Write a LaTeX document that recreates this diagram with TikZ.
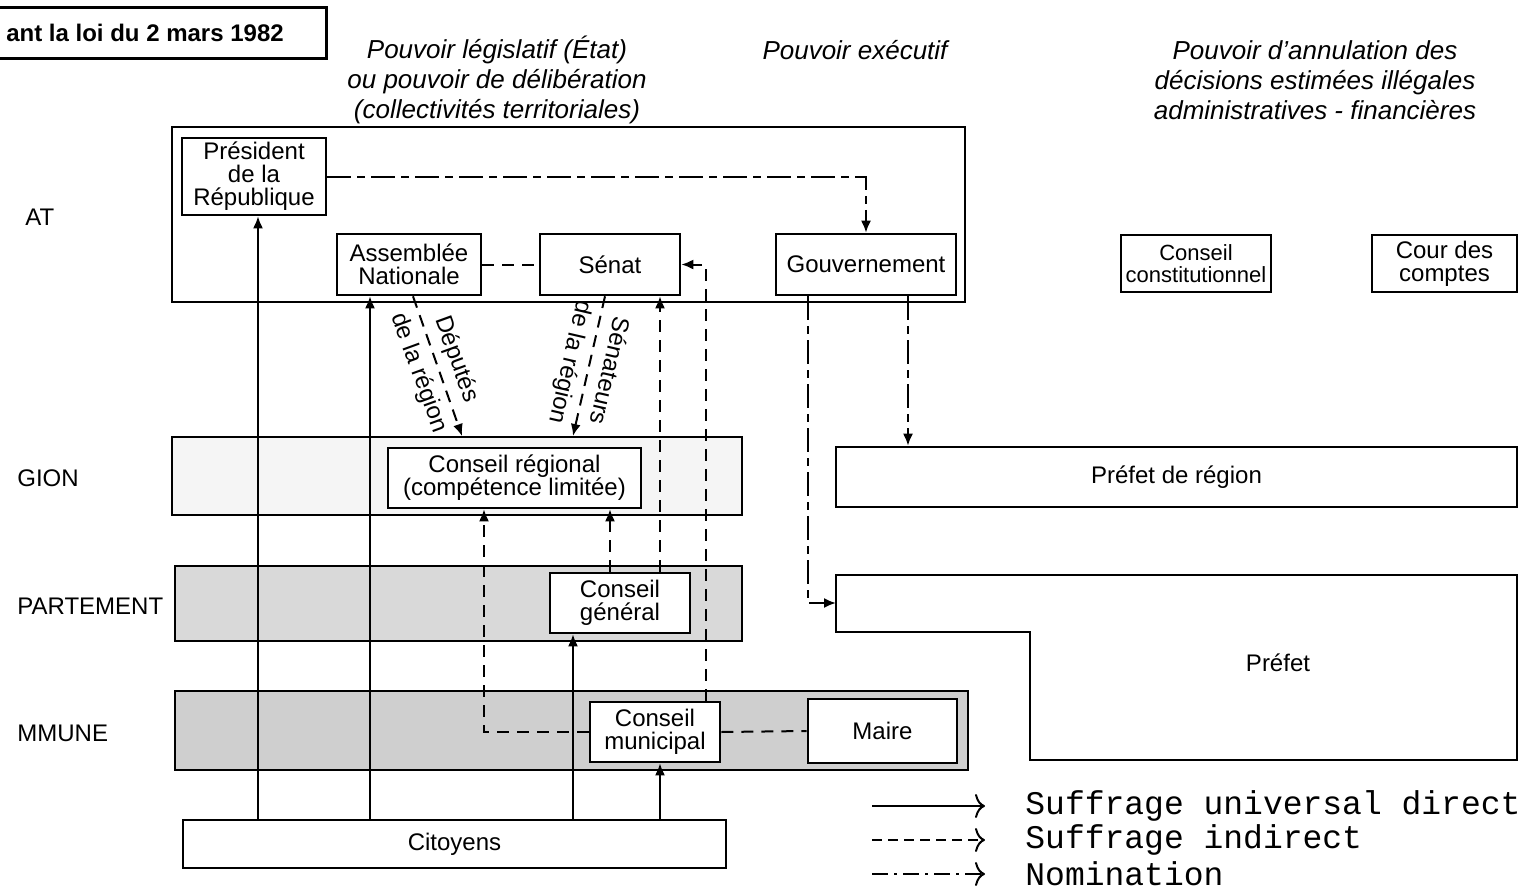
\documentclass[tikz,border=0pt]{standalone}
\usepackage{fontspec}
\setmainfont{Liberation Sans}
\newfontfamily\legendfont{Liberation Mono}
\usetikzlibrary{arrows.meta,positioning}

\begin{document}
\begin{tikzpicture}[x=0.5pt, y=-0.5pt,
    box/.style={draw, line width=1.3pt, fill=white, align=center, inner sep=0pt, font=\fontsize{12}{11.5}\selectfont},
    band/.style={draw, line width=1pt, inner sep=0pt},
    direct/.style={line width=1pt, -{Latex[length=6pt,width=5pt]}},
    indirect/.style={line width=1pt, dash pattern=on 6pt off 4pt, -{Latex[length=6pt,width=5pt]}},
    lien/.style={line width=1pt, dash pattern=on 6pt off 4pt},
    nomination/.style={line width=1pt, dash pattern=on 12pt off 3pt on 4pt off 3pt, -{Latex[length=6pt,width=5pt]}},
    pouvoir/.style={font=\fontsize{13}{15}\selectfont\itshape, align=center},
    niveau/.style={anchor=west, inner sep=0pt, font=\fontsize{12}{14}\selectfont},
    delegues/.style={midway, align=center, font=\fontsize{12}{20}\selectfont},
    legende/.style={anchor=west, inner sep=0pt, font=\legendfont\fontsize{16.5}{17}\selectfont},
    clef/.style={line width=1pt, -{To[length=5pt,width=12pt]}, shorten >=20pt}]
\useasboundingbox (0,0) rectangle (1523,890);

% titre et colonnes
\node[minimum width=181pt, minimum height=25pt, font=\bfseries\fontsize{12}{14}\selectfont] (titre) at (145,33) {ant la loi du 2 mars 1982};
\draw[line width=1.3pt] (titre.north west) -- (titre.north east) -- (titre.south east) -- (titre.south west);
\node[pouvoir] (legis) at (497,80) {Pouvoir législatif (État)\\ou pouvoir de délibération\\(collectivités territoriales)};
\node[pouvoir] (exec) at (855,50) {Pouvoir exécutif};
\node[pouvoir] (annul) at (1315,80) {Pouvoir d'annulation des\\décisions estimées illégales\\administratives - financières};

% niveaux
\node[niveau] (netat) at (25,217) {AT};
\node[niveau] (nregion) at (17,478) {GION};
\node[niveau] (ndept) at (17,606) {PARTEMENT};
\node[niveau] (ncommune) at (17,733) {MMUNE};

% bandes
\node[band, line width=1.3pt, minimum width=396.5pt, minimum height=87.5pt] (etat) at (568.5,214.5) {};
\node[band, fill=black!4, minimum width=285pt, minimum height=39pt] (regionband) at (457,476) {};
\node[band, fill=black!15, minimum width=283.5pt, minimum height=37.5pt] (deptband) at (458.5,603.5) {};
\node[band, fill=black!19, minimum width=396.5pt, minimum height=39.5pt] (communeband) at (571.5,730.5) {};

% Etat
\node[box, minimum width=72pt, minimum height=38.5pt] (pres) at (254,176.5) {Président\\de la\\République};
\node[box, minimum width=72pt, minimum height=30.5pt] (an) at (409,264.5) {Assemblée\\Nationale};
\node[box, minimum width=70pt, minimum height=30.5pt] (senat) at (610,264.5) {Sénat};
\node[box, minimum width=90pt, minimum height=30.5pt] (gouv) at (866,264.5) {Gouvernement};
\node[box, minimum width=75pt, minimum height=28.5pt, font=\fontsize{11}{11}\selectfont] (cc) at (1196,263.5) {Conseil\\constitutionnel};
\node[box, minimum width=72.5pt, minimum height=28.5pt] (cdc) at (1444.5,263.5) {Cour des\\comptes};

% collectivites
\node[box, minimum width=126.5pt, minimum height=30pt] (cr) at (514.5,478) {Conseil régional\\(compétence limitée)};
\node[box, minimum width=340.5pt, minimum height=30pt] (pr) at (1176.5,477) {Préfet de région};
\node[box, minimum width=70pt, minimum height=30pt] (cg) at (620,603) {Conseil\\général};
\draw[line width=1.3pt] (836,575) -- (1517,575) -- (1517,760) -- (1030,760) -- (1030,632) -- (836,632) -- cycle;
\node[font=\fontsize{12}{14}\selectfont] (prefet) at (1278,663) {Préfet};
\coordinate (prefetin) at (836,603);
\node[box, minimum width=65pt, minimum height=30pt] (cm) at (655,732) {Conseil\\municipal};
\node[box, minimum width=74.5pt, minimum height=32pt] (maire) at (882.5,731) {Maire};
\node[box, minimum width=271.5pt, minimum height=24pt] (cit) at (454.5,844) {Citoyens};

% suffrage universel direct
\draw[direct] (cit.north -| 258,0) -- (pres.south -| 258,0);
\draw[direct] (cit.north -| 370,0) -- (an.south -| 370,0);
\draw[direct] (cit.north -| 573,0) -- (cg.south -| 573,0);
\draw[direct] (cit.north -| 660,0) -- (cm.south -| 660,0);

% suffrage indirect
\draw[lien] (an.east) -- (senat.west);
\draw[indirect] (an.south -| 413,0) -- (regionband.north -| 462,0)
    node[delegues, rotate=-70] (deputes) {Députés\\de la région};
\draw[indirect] (senat.south -| 605,0) -- (regionband.north -| 573,0)
    node[delegues, rotate=-103] (senateurs) {Sénateurs\\de la région};
\draw[indirect] (cg.north -| 660,0) -- (senat.south -| 660,0);
\draw[indirect] (cm.north -| 706,0) |- (senat.east);
\draw[indirect] (cm.west) -| (cr.south -| 484,0);
\draw[indirect] (cg.north -| 610,0) -- (cr.south -| 610,0);
\draw[lien] (cm.east) -- (maire.west);

% nomination
\draw[nomination] (pres.east) -| (gouv.north);
\draw[nomination] (gouv.south -| 908,0) -- (pr.north -| 908,0);
\draw[nomination] (gouv.south -| 808,0) |- (prefetin);

% legende
\node[legende] (leg1) at (1025,806) {Suffrage universal direct};
\node[legende] (leg2) at (1025,840) {Suffrage indirect};
\node[legende] (leg3) at (1025,874) {Nomination};
\draw[clef] (leg1.west -| 872,0) -- (leg1.west);
\draw[clef, dash pattern=on 5pt off 3pt] (leg2.west -| 872,0) -- (leg2.west);
\draw[clef, dash pattern=on 8pt off 3pt on 1.5pt off 3pt] (leg3.west -| 872,0) -- (leg3.west);
\end{tikzpicture}
\end{document}
